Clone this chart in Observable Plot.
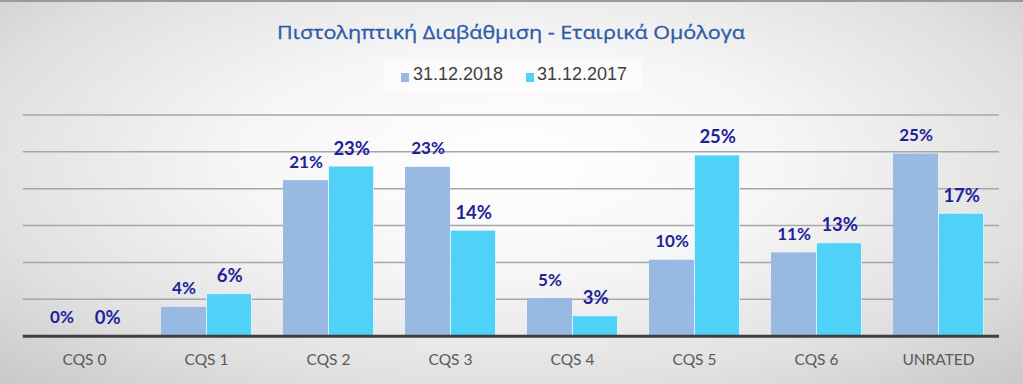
<!DOCTYPE html>
<html>
<head>
<meta charset="utf-8">
<script src="https://cdn.jsdelivr.net/npm/d3@7"></script>
<script src="https://cdn.jsdelivr.net/npm/@observablehq/plot@0.6"></script>
<style>
  html, body { margin: 0; padding: 0; }
  #chart {
    position: relative; width: 1023px; height: 384px; overflow: hidden;
    background: radial-gradient(ellipse 75% 85% at 50% 42%, #ffffff 0%, #f6f6f6 35%, #e0e0e0 70%, #c4c4c4 100%);
    box-shadow: inset 0 2px 0 #9a9a9a;
  }
  #chart > svg.plot { position: absolute; left: 0; top: 0; background: transparent; overflow: visible; }
  #legend {
    position: absolute; left: 383px; top: 59px; width: 259px; height: 33px;
    background: rgba(255,255,255,0.45);
    font-family: "Liberation Sans", Arial, sans-serif; font-size: 18px; color: #404040;
  }
  .sw { position: absolute; width: 8px; height: 9px; top: 14px; }
  .lt { position: absolute; top: 5px; line-height: 20px; white-space: nowrap; }
</style>
</head>
<body>
<div id="chart"></div>
<script>
const categories = ["CQS 0", "CQS 1", "CQS 2", "CQS 3", "CQS 4", "CQS 5", "CQS 6", "UNRATED"];
const series = ["31.12.2018", "31.12.2017"];
const values2018 = [0, 3.9, 21.1, 22.9, 5.1, 10.3, 11.3, 24.7];
const values2017 = [0, 5.7, 23.0, 14.3, 2.7, 24.5, 12.6, 16.6];
const gridTicks = [5, 10, 15, 20, 25, 30];
const title = "Πιστοληπτική Διαβάθμιση - Εταιρικά Ομόλογα";
const colors = ["#98b9e1", "#4fd1f8"];

const d2018 = categories.map((c, i) => ({cat: c, value: values2018[i]}));
const d2017 = categories.map((c, i) => ({cat: c, value: values2017[i]}));
const fmt = d => Math.round(d.value) + "%";

const chart = document.getElementById("chart");

const plot = Plot.plot({
  width: 1023,
  height: 384,
  marginTop: 114.5,
  marginBottom: 48.3,
  marginLeft: 22.7,
  marginRight: 24,
  style: {background: "transparent", fontFamily: "Lato, 'Open Sans', sans-serif", fontSize: "15.5px", color: "#5a5a5a"},
  x: {domain: categories, padding: 0, label: null, tickSize: 0, tickPadding: 18},
  y: {domain: [0, 30], axis: null},
  marks: [
    Plot.ruleY(gridTicks, {stroke: "#a6a6a6", strokeWidth: 1.5}),
    Plot.barY(d2018, {x: "cat", y: "value", fill: colors[0], insetLeft: 16, insetRight: 61}),
    Plot.barY(d2017, {x: "cat", y: "value", fill: colors[1], insetLeft: 61.5, insetRight: 15.5, stroke: "#ffffff", strokeOpacity: 0.6, strokeWidth: 1}),
    Plot.ruleY([0], {stroke: "#3f3f3f", strokeWidth: 3}),
    Plot.text(d2018, {x: "cat", y: "value", text: fmt, dx: -22.5, dy: -18.5, fill: "#1f1f9c", fontWeight: "bold", fontSize: 17, fontFamily: "Lato, sans-serif"}),
    Plot.text(d2017, {x: "cat", y: "value", text: fmt, dx: 23.2, dy: -18, fill: "#1f1f9c", fontWeight: "bold", fontSize: 18.5, fontFamily: "Lato, sans-serif"})
  ]
});
chart.appendChild(plot);

// Title
const ns = "http://www.w3.org/2000/svg";
const tsvg = document.createElementNS(ns, "svg");
tsvg.setAttribute("width", 1023); tsvg.setAttribute("height", 60);
tsvg.style.position = "absolute"; tsvg.style.left = "0"; tsvg.style.top = "0";
const t = document.createElementNS(ns, "text");
t.setAttribute("x", 511); t.setAttribute("y", 38.5);
t.setAttribute("text-anchor", "middle");
t.setAttribute("textLength", 468);
t.setAttribute("lengthAdjust", "spacingAndGlyphs");
t.setAttribute("fill", "#2d5aa8");
t.setAttribute("font-family", "'Open Sans', 'Noto Sans', sans-serif");
t.setAttribute("font-size", 18.5);
t.setAttribute("stroke", "#2d5aa8");
t.setAttribute("stroke-width", 0.3);
t.textContent = title;
tsvg.appendChild(t);
chart.appendChild(tsvg);

// Legend
const legend = document.createElement("div");
legend.id = "legend";
const pos = [[18, 30], [143, 154]];
series.forEach((s, i) => {
  const sw = document.createElement("div");
  sw.className = "sw"; sw.style.left = pos[i][0] + "px"; sw.style.background = colors[i];
  const lt = document.createElement("div");
  lt.className = "lt"; lt.style.left = pos[i][1] + "px"; lt.textContent = s;
  legend.appendChild(sw); legend.appendChild(lt);
});
chart.appendChild(legend);
</script>
</body>
</html>
